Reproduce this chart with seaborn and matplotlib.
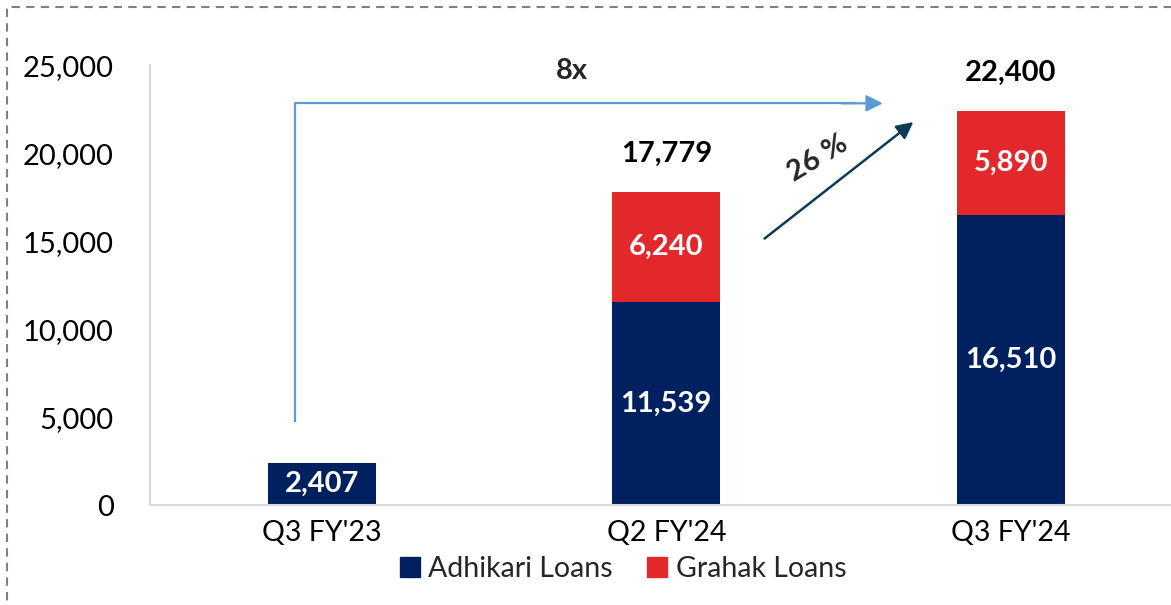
import matplotlib
matplotlib.use("Agg")
import matplotlib.pyplot as plt
import matplotlib.patches as mpatches
import pandas as pd
import seaborn as sns

# data
categories = ["Q3 FY'23", "Q2 FY'24", "Q3 FY'24"]
adhikari = [2407, 11539, 16510]
grahak = [0, 6240, 5890]
growth_yoy = "8x"
growth_qoq = "26 %"

NAVY = "#002060"
RED = "#E2282B"
FONT = "Lato"

df = pd.DataFrame({"quarter": categories, "adhikari": adhikari, "grahak": grahak})
df["total"] = df["adhikari"] + df["grahak"]

sns.set_theme(style="white")
plt.rcParams["font.family"] = [FONT, "DejaVu Sans"]

fig = plt.figure(figsize=(11.71, 6.05), dpi=100)
ax = fig.add_axes([0.128, 0.165, 0.882, 0.727])

# stacked bars: totals in red, adhikari in navy over them
sns.barplot(data=df, x="quarter", y="total", color=RED, width=0.314,
            saturation=1, ax=ax, edgecolor="none")
sns.barplot(data=df, x="quarter", y="adhikari", color=NAVY, width=0.314,
            saturation=1, ax=ax, edgecolor="none")

ax.set_xlim(-0.5, 2.5)
ax.set_ylim(0, 25000)
ax.set_yticks(range(0, 25001, 5000))
ax.yaxis.set_major_formatter(matplotlib.ticker.FuncFormatter(lambda v, p: f"{int(v):,}"))
ax.set_xlabel("")
ax.set_ylabel("")
ax.tick_params(axis="y", length=0, pad=26, labelsize=21, labelcolor="black")
ax.tick_params(axis="x", length=0, pad=11, labelsize=20.5, labelcolor="black")
for s in ["top", "right"]:
    ax.spines[s].set_visible(False)
for s in ["left", "bottom"]:
    ax.spines[s].set_color("#D9D9D9")
    ax.spines[s].set_linewidth(1.5)

# segment labels
for i, row in df.iterrows():
    ax.text(i, row["adhikari"] / 2, f"{row['adhikari']:,}", ha="center", va="center",
            color="white", fontsize=21, fontweight="bold")
    if row["grahak"] > 0:
        ax.text(i, row["adhikari"] + row["grahak"] / 2, f"{row['grahak']:,}",
                ha="center", va="center", color="white", fontsize=21, fontweight="bold")
        ax.text(i, row["total"] + 1450, f"{row['total']:,}", ha="center", va="bottom",
                color="black", fontsize=21, fontweight="bold")

# 8x elbow arrow
ax.plot([-0.078, -0.078, 1.55], [4716, 22841, 22841], color="#5B9BD5", lw=1.6,
        solid_capstyle="butt")
ax.annotate("", xy=(1.637, 22841), xytext=(1.5, 22841),
            arrowprops=dict(arrowstyle="-|>", color="#5B9BD5", lw=1.6, mutation_scale=25))
ax.text(0.727, 24650, growth_yoy, ha="center", va="center", fontsize=21, fontweight="bold")

# 26% arrow
ax.annotate("", xy=(1.724, 21875), xytext=(1.279, 15057),
            arrowprops=dict(arrowstyle="-|>", color="#0D3B55", lw=1.8, mutation_scale=25))
ax.text(1.44, 19700, growth_qoq, ha="center", va="center", rotation=31,
        fontsize=21, fontweight="bold")

# legend
handles = [mpatches.Patch(color=NAVY, label="Adhikari Loans"),
           mpatches.Patch(color=RED, label="Grahak Loans")]
fig.legend(handles=handles, loc="center", bbox_to_anchor=(0.532, 0.059), ncol=2,
           frameon=False, fontsize=20.5, handlelength=0.7, handleheight=0.7,
           handletextpad=0.3, columnspacing=1.2, borderpad=0)

# dashed border
fig.patches.append(mpatches.Rectangle((7 / 1171, -0.05), 1.1, 1 - 7 / 605 + 0.05,
                                      transform=fig.transFigure, fill=False,
                                      edgecolor="#808080", lw=1.5, ls=(0, (4, 3))))

fig.savefig("out.png", dpi=100)
